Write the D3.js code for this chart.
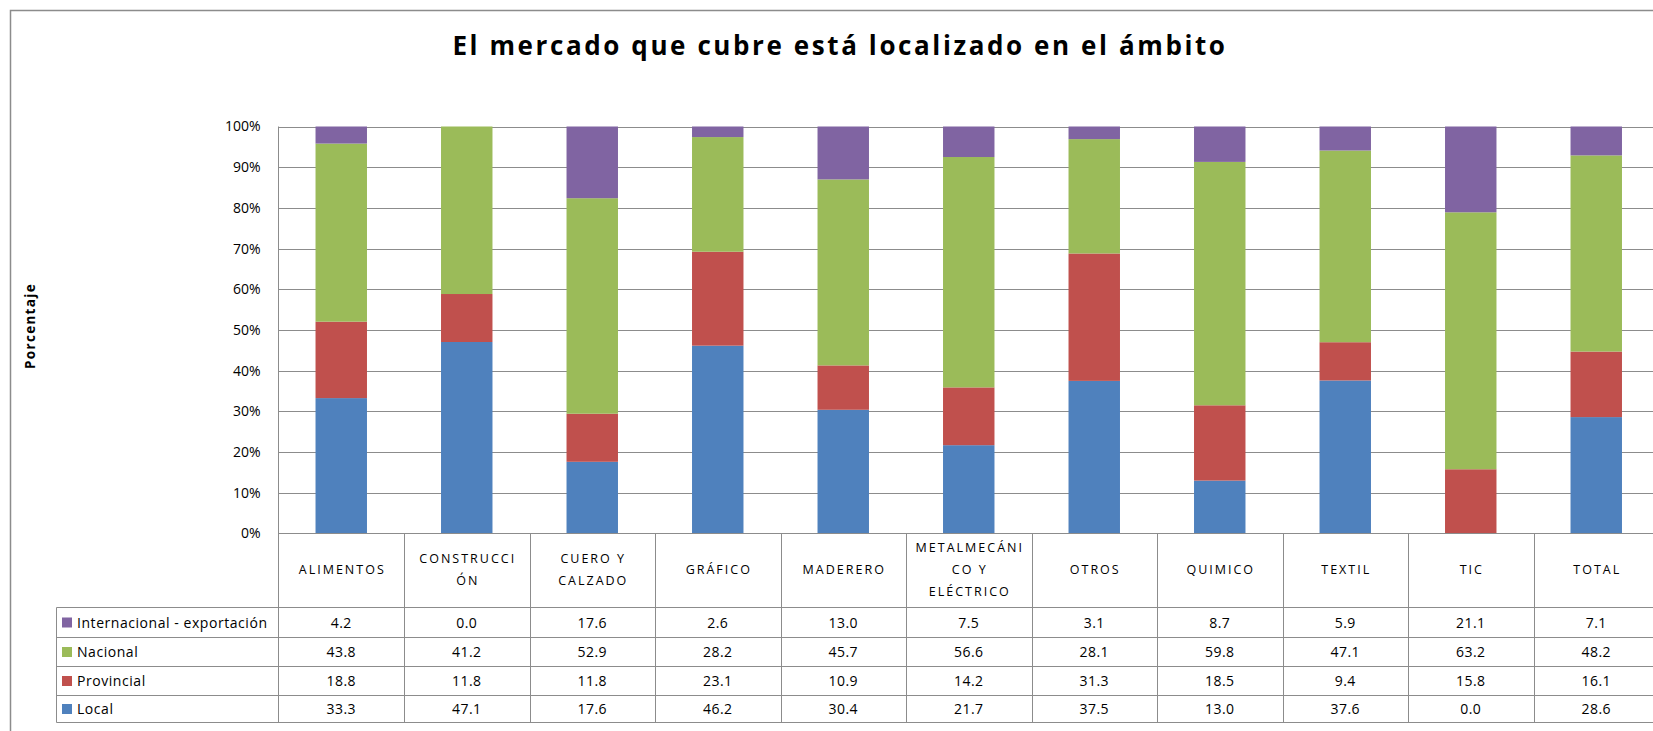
<!DOCTYPE html>
<html>
<head>
<meta charset="utf-8">
<script src="https://cdn.jsdelivr.net/npm/d3@7"></script>
<style>
  body { margin: 0; background: #fff; }
  text { font-family: "Open Sans", sans-serif; fill: #000; }
</style>
</head>
<body>
<div class="chart"></div>
<script>
// categories and series (percent values from the data table)
var categories = ["ALIMENTOS", "CONSTRUCCIÓN", "CUERO Y CALZADO", "GRÁFICO", "MADERERO",
  "METALMECÁNICO Y ELÉCTRICO", "OTROS", "QUIMICO", "TEXTIL", "TIC", "TOTAL"]
var categoryLines = [["ALIMENTOS"], ["CONSTRUCCI", "ÓN"], ["CUERO Y", "CALZADO"], ["GRÁFICO"], ["MADERERO"],
  ["METALMECÁNI", "CO Y", "ELÉCTRICO"], ["OTROS"], ["QUIMICO"], ["TEXTIL"], ["TIC"], ["TOTAL"]]
var seriesNames = ["Local", "Provincial", "Nacional", "Internacional - exportación"]
var local = [33.3, 47.1, 17.6, 46.2, 30.4, 21.7, 37.5, 13.0, 37.6, 0.0, 28.6]
var provincial = [18.8, 11.8, 11.8, 23.1, 10.9, 14.2, 31.3, 18.5, 9.4, 15.8, 16.1]
var nacional = [43.8, 41.2, 52.9, 28.2, 45.7, 56.6, 28.1, 59.8, 47.1, 63.2, 48.2]
var internacional = [4.2, 0.0, 17.6, 2.6, 13.0, 7.5, 3.1, 8.7, 5.9, 21.1, 7.1]
var yTicks = [0, 10, 20, 30, 40, 50, 60, 70, 80, 90, 100]

var colors = ["#4F81BD", "#C0504D", "#9BBB59", "#8064A2"]
var series = [local, provincial, nacional, internacional]

var W = 1653, H = 731
var svg = d3.select(".chart").append("svg").attr("width", W).attr("height", H)

// outer frame
svg.append("rect").attr("x", 10.5).attr("y", 10.5).attr("width", W).attr("height", H)
  .attr("fill", "none").attr("stroke", "#8c8c8c").attr("stroke-width", 1.5)

svg.append("text").attr("x", 840).attr("y", 55).attr("text-anchor", "middle")
  .style("font-size", "26px").style("font-weight", "bold").style("letter-spacing", "2.6px")
  .text("El mercado que cubre está localizado en el ámbito")

svg.append("text").attr("transform", "translate(35,326) rotate(-90)").attr("text-anchor", "middle")
  .style("font-size", "13.5px").style("font-weight", "bold").style("letter-spacing", "1.3px")
  .text("Porcentaje")

var plotLeft = 278.5, plotTop = 126.5, plotBottom = 533.5, colW = 125.5
var x = d3.scaleBand().domain(categories).range([plotLeft, plotLeft + colW * categories.length]).padding(0)
var y = d3.scaleLinear().domain([0, 100]).range([plotBottom, plotTop])

// gridlines
svg.append("g").selectAll("line").data(yTicks.slice(1)).enter().append("line")
  .attr("x1", plotLeft).attr("x2", W + 10)
  .attr("y1", function(d){ return Math.round(y(d)) + 0.5 }).attr("y2", function(d){ return Math.round(y(d)) + 0.5 })
  .attr("stroke", "#8c8c8c").attr("stroke-width", 1)

var yAxis = d3.axisLeft(y).tickValues(yTicks).tickSize(0).tickPadding(18)
  .tickFormat(function(d){ return d + "%" })
var ya = svg.append("g").attr("transform", "translate(" + plotLeft + ",0)").call(yAxis)
ya.select(".domain").remove()
ya.selectAll("text").style("font-size", "14px").style("font-family", "Open Sans, sans-serif").attr("fill", "#000")

// stacked 100% bars
var stackData = categories.map(function(c, i){
  var total = local[i] + provincial[i] + nacional[i] + internacional[i]
  var o = { cat: c }
  seriesNames.forEach(function(s, k){ o[s] = series[k][i] / total * 100 })
  return o
})
var stacked = d3.stack().keys(seriesNames)(stackData)
var barW = colW * 0.41

svg.append("g").selectAll("g").data(stacked).enter().append("g")
  .attr("fill", function(d, i){ return colors[i] })
  .selectAll("rect").data(function(d){ return d }).enter().append("rect")
    .attr("x", function(d){ return x(d.data.cat) + (colW - barW) / 2 })
    .attr("width", barW)
    .attr("y", function(d){ return y(d[1]) })
    .attr("height", function(d){ return Math.max(0, y(d[0]) - y(d[1])) })

// left axis line and baseline
svg.append("line").attr("x1", plotLeft).attr("x2", plotLeft).attr("y1", plotTop).attr("y2", 722)
  .attr("stroke", "#8c8c8c")
svg.append("line").attr("x1", plotLeft).attr("x2", W + 10).attr("y1", plotBottom).attr("y2", plotBottom)
  .attr("stroke", "#8c8c8c")

// data table
var tableLeft = 56.5
var rowLines = [607.5, 637.5, 666.5, 695.5, 722.5]
var table = svg.append("g")
table.selectAll(".hl").data(rowLines).enter().append("line")
  .attr("x1", tableLeft).attr("x2", W + 10)
  .attr("y1", function(d){ return d }).attr("y2", function(d){ return d })
  .attr("stroke", "#8c8c8c")
table.append("line").attr("x1", tableLeft).attr("x2", tableLeft).attr("y1", rowLines[0]).attr("y2", rowLines[4])
  .attr("stroke", "#8c8c8c")
table.selectAll(".vl").data(categories.slice(1)).enter().append("line")
  .attr("x1", function(d){ return Math.round(x(d)) + 0.5 }).attr("x2", function(d){ return Math.round(x(d)) + 0.5 })
  .attr("y1", plotBottom).attr("y2", rowLines[4])
  .attr("stroke", "#8c8c8c")

// header labels
categories.forEach(function(c, i){
  var lines = categoryLines[i]
  var cy = 574 - (lines.length - 1) * 11
  var t = table.append("text").attr("text-anchor", "middle")
    .style("font-size", "12.5px").style("letter-spacing", "2px")
  lines.forEach(function(l, j){
    t.append("tspan").attr("x", x(c) + colW / 2 + 1).attr("y", cy + j * 22).text(l)
  })
})

// rows: top to bottom = Internacional, Nacional, Provincial, Local
var rowOrder = [3, 2, 1, 0]
rowOrder.forEach(function(k, r){
  var yMid = (rowLines[r] + rowLines[r + 1]) / 2 + 5
  table.append("rect").attr("x", 62).attr("y", yMid - 10).attr("width", 10).attr("height", 10)
    .attr("fill", colors[k])
  table.append("text").attr("x", 77).attr("y", yMid).style("font-size", "14px").style("letter-spacing", "0.55px")
    .text(seriesNames[k])
  table.selectAll(null).data(series[k]).enter().append("text")
    .attr("x", function(d, i){ return x(categories[i]) + colW / 2 })
    .attr("y", yMid).attr("text-anchor", "middle")
    .style("font-size", "14px").style("letter-spacing", "0.5px")
    .text(function(d){ return d.toFixed(1) })
})
</script>
</body>
</html>
